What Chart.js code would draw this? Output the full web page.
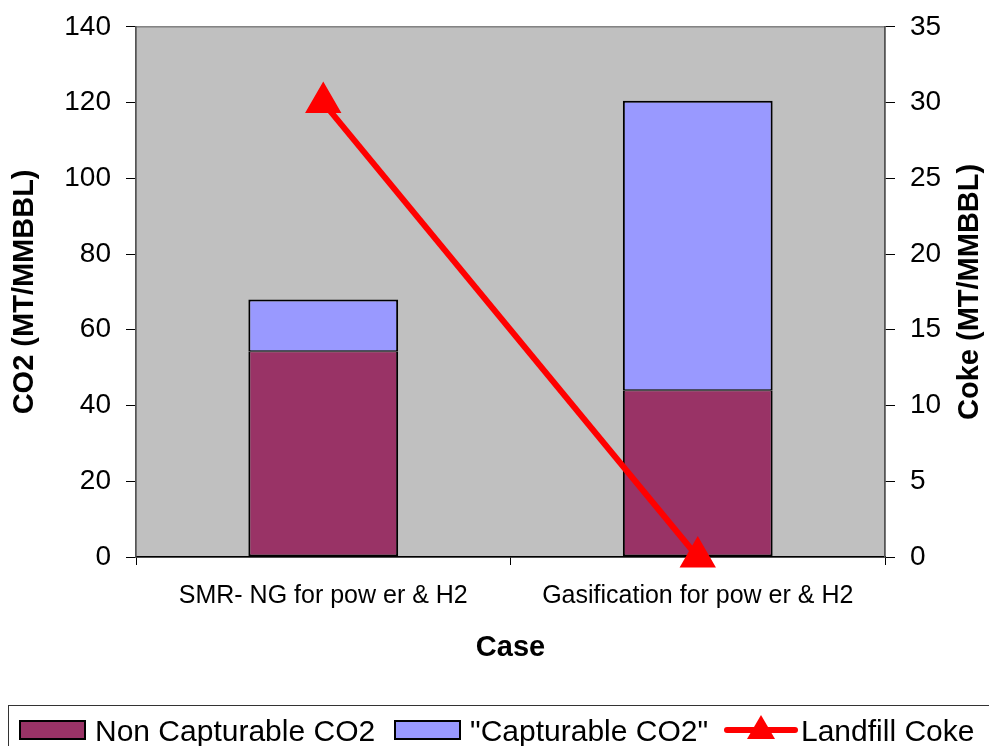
<!DOCTYPE html>
<html>
<head>
<meta charset="utf-8">
<script src="https://cdn.jsdelivr.net/npm/chart.js@4.4.1/dist/chart.umd.min.js"></script>
<style>
    html, body { margin: 0; padding: 0; background: #fff; }
    #wrap { position: relative; width: 989px; height: 746px; overflow: hidden; font-family: "Liberation Sans", Arial, sans-serif; }
    #chart { position: absolute; left: 0; top: -5px; }
    .legend-frame { position: absolute; left: 8px; top: 705px; width: 1000px; height: 60px; border: 1.5px solid #333; box-sizing: border-box; }
    .legend-swatch { position: absolute; top: 720px; width: 67px; height: 20px; border: 2px solid #000; box-sizing: border-box; }
    .legend-text { position: absolute; top: 716px; font-size: 30px; line-height: 29px; color: #000; white-space: nowrap; }
    .legend-line { position: absolute; left: 724px; top: 727px; width: 74px; height: 6px; background: #ff0000; border-radius: 3px; }
    .legend-tri { position: absolute; left: 747px; top: 715px; width: 0; height: 0;
        border-left: 14px solid transparent; border-right: 14px solid transparent; border-bottom: 24px solid #ff0000; }
</style>
</head>
<body>
<div id="wrap">
    <canvas id="chart" width="989" height="752"></canvas>
    <div class="legend-frame"></div>
    <div class="legend-swatch" style="left:19px;background:#993366"></div>
    <div class="legend-text" style="left:95px">Non Capturable CO2</div>
    <div class="legend-swatch" style="left:394px;background:#9999ff"></div>
    <div class="legend-text" style="left:470px">"Capturable CO2"</div>
    <div class="legend-line"></div>
    <div class="legend-tri"></div>
    <div class="legend-text" style="left:801px">Landfill Coke</div>
</div>
<script>
// Données du graphique
const categories = ['SMR- NG for pow er & H2', 'Gasification for pow er & H2'];
const nonCapturableCO2 = [54.3, 44.0];
const capturableCO2 = [13.7, 76.5];
const landfillCoke = [30, 0];
const co2Ticks = [0, 20, 40, 60, 80, 100, 120, 140];
const cokeTicks = [0, 5, 10, 15, 20, 25, 30, 35];

const police = '"Liberation Sans", Arial, sans-serif';

document.addEventListener('DOMContentLoaded', function() {
    initChart();
});

// Fond gris de la zone de tracé
const fondZone = {
    id: 'fondZone',
    beforeDraw(chart) {
        const { ctx, chartArea: a } = chart;
        ctx.save();
        ctx.fillStyle = '#c0c0c0';
        ctx.fillRect(a.left, a.top, a.width, a.height);
        ctx.strokeStyle = '#808080';
        ctx.lineWidth = 1.5;
        ctx.strokeRect(a.left, a.top, a.width, a.height);
        ctx.restore();
    }
};

// Titre de l'axe droit, écrit de bas en haut comme à gauche
const titreDroite = {
    id: 'titreDroite',
    afterDraw(chart) {
        const { ctx, chartArea: a } = chart;
        ctx.save();
        ctx.translate(970, (a.top + a.bottom) / 2);
        ctx.rotate(-Math.PI / 2);
        ctx.font = 'bold 29px ' + police;
        ctx.fillStyle = '#000';
        ctx.textAlign = 'center';
        ctx.textBaseline = 'middle';
        ctx.fillText('Coke (MT/MMBBL)', 0, 0);
        ctx.restore();
    }
};

function initChart() {
    const ctx = document.getElementById('chart');
    new Chart(ctx, {
        type: 'bar',
        data: {
            labels: categories,
            datasets: [
                {
                    type: 'line',
                    label: 'Landfill Coke',
                    data: landfillCoke,
                    yAxisID: 'y1',
                    borderColor: '#ff0000',
                    backgroundColor: '#ff0000',
                    borderWidth: 6,
                    pointStyle: 'triangle',
                    pointRadius: 15,
                    pointHoverRadius: 15,
                    tension: 0,
                    clip: false,
                    order: 0
                },
                {
                    label: 'Non Capturable CO2',
                    data: nonCapturableCO2,
                    backgroundColor: '#993366',
                    borderColor: '#000',
                    borderWidth: { top: 1, left: 2, right: 2, bottom: 2 },
                    borderSkipped: false,
                    stack: 'co2',
                    order: 1
                },
                {
                    label: '"Capturable CO2"',
                    data: capturableCO2,
                    backgroundColor: '#9999ff',
                    borderColor: '#000',
                    borderWidth: { top: 2, left: 2, right: 2, bottom: 1 },
                    borderSkipped: false,
                    stack: 'co2',
                    order: 1
                }
            ]
        },
        options: {
            responsive: false,
            animation: false,
            layout: { padding: { top: 21, left: 0, right: 0, bottom: 80 } },
            datasets: {
                bar: { categoryPercentage: 1, barPercentage: 0.4 }
            },
            plugins: {
                legend: { display: false },
                tooltip: { enabled: false }
            },
            scales: {
                x: {
                    stacked: true,
                    grid: { drawOnChartArea: false, drawTicks: true, tickLength: 8, color: '#000', offset: true },
                    border: { color: '#000', width: 1.5 },
                    ticks: { color: '#000', font: { family: police, size: 25 }, padding: 16, maxRotation: 0 },
                    title: { display: true, text: 'Case', color: '#000', font: { family: police, size: 29, weight: 'bold' }, padding: { top: 0, bottom: 2 } },
                    afterFit: scale => { scale.height = 110; }
                },
                y: {
                    stacked: true,
                    position: 'left',
                    min: 0,
                    max: 140,
                    afterBuildTicks: scale => { scale.ticks = co2Ticks.map(v => ({ value: v })); },
                    grid: { drawOnChartArea: false, drawTicks: true, tickLength: 10, color: '#000' },
                    border: { color: '#555', width: 1.5 },
                    ticks: { color: '#000', font: { family: police, size: 28 }, padding: 15 },
                    title: { display: true, text: 'CO2 (MT/MMBBL)', color: '#000', font: { family: police, size: 29, weight: 'bold' }, padding: { top: 8, bottom: 0 } },
                    afterFit: scale => { scale.width = 136; }
                },
                y1: {
                    position: 'right',
                    min: 0,
                    max: 35,
                    afterBuildTicks: scale => { scale.ticks = cokeTicks.map(v => ({ value: v })); },
                    grid: { drawOnChartArea: false, drawTicks: true, tickLength: 10, color: '#000' },
                    border: { color: '#555', width: 1.5 },
                    ticks: { color: '#000', font: { family: police, size: 28 }, padding: 15 },
                    title: { display: false },
                    afterFit: scale => { scale.width = 104; }
                }
            }
        },
        plugins: [fondZone, titreDroite]
    });
}
</script>
</body>
</html>
